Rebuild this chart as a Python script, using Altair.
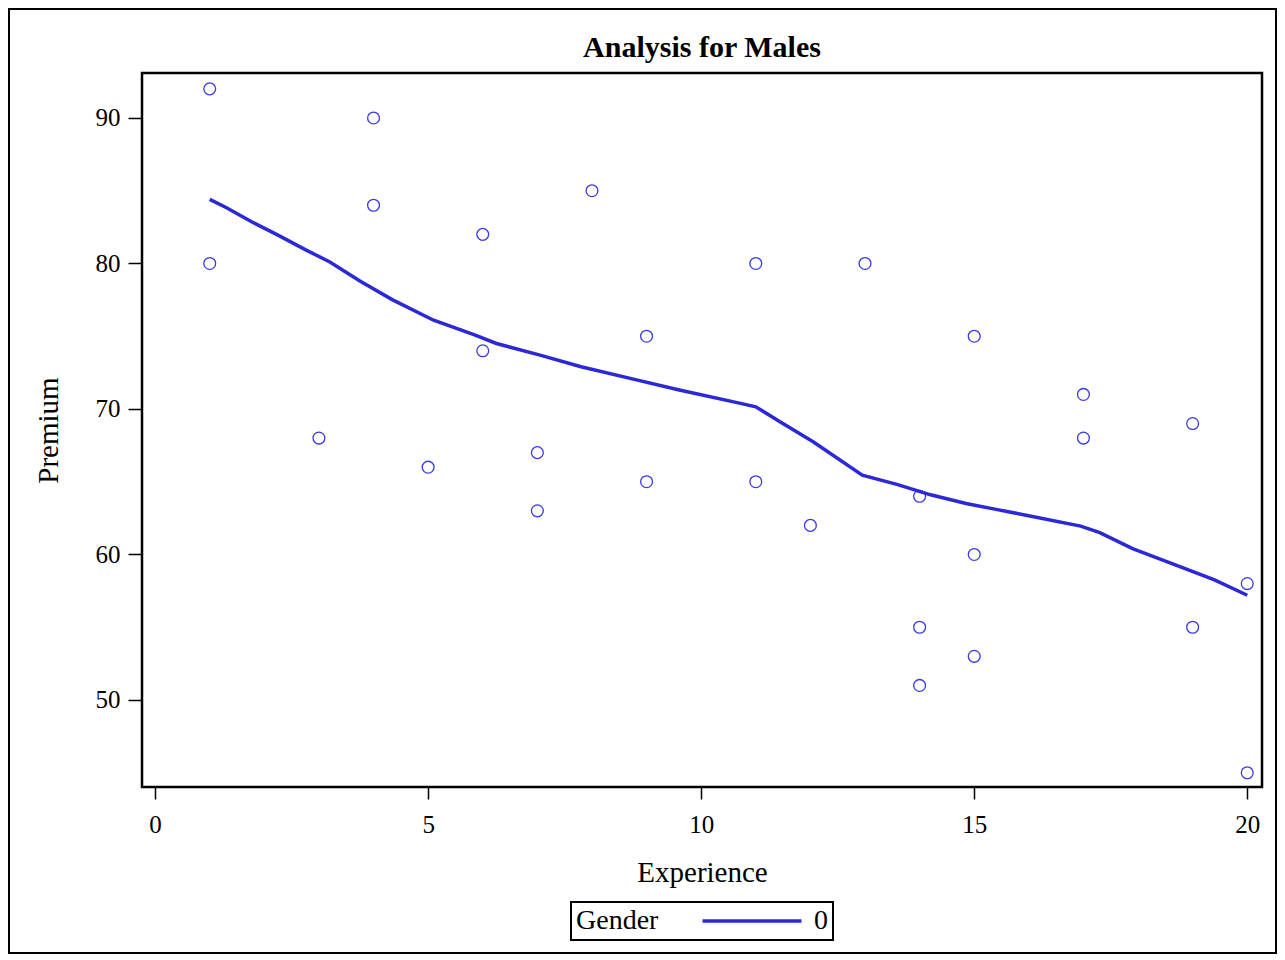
import altair as alt
import pandas as pd

# Scatter data (Experience, Premium)
exp_pts = [1, 1, 3, 4, 4, 5, 6, 6, 7, 7, 8, 9, 9, 11, 11, 12, 13, 14, 14, 14,
           15, 15, 15, 17, 17, 19, 19, 20, 20]
prem_pts = [92, 80, 68, 90, 84, 66, 82, 74, 67, 63, 85, 75, 65, 80, 65, 62, 80,
            64, 55, 51, 75, 60, 53, 71, 68, 69, 55, 58, 45]

# Loess fit line
exp_fit = [1.0, 1.3, 1.75, 2.25, 2.75, 3.2, 3.75, 4.35, 5.1, 5.85, 6.25, 7.05,
           7.8, 8.7, 9.6, 10.7, 11.0, 11.45, 12.05, 12.95, 13.6, 14.2, 14.85,
           15.4, 15.95, 16.95, 17.3, 17.9, 18.85, 19.4, 20.0]
prem_fit = [84.4, 83.85, 82.9, 81.95, 80.95, 80.1, 78.8, 77.5, 76.1, 75.1, 74.5,
            73.7, 72.9, 72.1, 71.3, 70.4, 70.15, 69.1, 67.75, 65.45, 64.8, 64.1,
            63.5, 63.1, 62.7, 61.95, 61.5, 60.4, 59.05, 58.25, 57.2]
gender = ["0"] * len(exp_fit)

x_ticks = [0, 5, 10, 15, 20]
y_ticks = [50, 60, 70, 80, 90]
title_text = "Analysis for Males"

pts = pd.DataFrame({"Experience": exp_pts, "Premium": prem_pts})
fit = pd.DataFrame({"Experience": exp_fit, "Premium": prem_fit, "Gender": gender})

FONT = "Liberation Serif"
LINE_COLOR = "#2b28d6"
PT_COLOR = "#3a3ae0"

xscale = alt.Scale(domain=[-0.24, 20.27], nice=False, zero=False)
yscale = alt.Scale(domain=[44.02, 93.09], nice=False, zero=False)

xaxis = alt.Axis(values=x_ticks, title="Experience", grid=False, tickSize=12,
                 labelPadding=13, titlePadding=21, domain=False)
yaxis = alt.Axis(values=y_ticks, title="Premium", grid=False, tickSize=14,
                 labelPadding=8, titlePadding=32, domain=False)

points = alt.Chart(pts).mark_point(
    shape="circle", filled=False, size=140, strokeWidth=1.3, color=PT_COLOR, opacity=1
).encode(
    x=alt.X("Experience:Q", scale=xscale, axis=xaxis),
    y=alt.Y("Premium:Q", scale=yscale, axis=yaxis),
)

line = alt.Chart(fit).mark_line(strokeWidth=3.5).encode(
    x=alt.X("Experience:Q", scale=xscale),
    y=alt.Y("Premium:Q", scale=yscale),
    color=alt.Color(
        "Gender:N",
        scale=alt.Scale(domain=["0"], range=[LINE_COLOR]),
        legend=alt.Legend(
            title="Gender", orient="none", legendX=429, legendY=829,
            direction="horizontal", titleOrient="left",
            strokeColor="black", padding=5,
            symbolType="M-4.95,0H4.95", symbolSize=400, symbolStrokeWidth=3.5,
            symbolOffset=37, labelOffset=48, titlePadding=42,
            titleFont=FONT, titleFontSize=28, titleFontWeight="normal",
            titleColor="black", labelFont=FONT, labelFontSize=28, labelColor="black",
        ),
    ),
)

frame = alt.Chart(alt.Data(values=[{}])).mark_rect(
    fill=None, stroke="black", strokeWidth=2
).encode(
    x=alt.value(-133), x2=alt.value(1134), y=alt.value(-64), y2=alt.value(880)
)

title = alt.Chart(alt.Data(values=[{}])).mark_text(
    text=title_text, font=FONT, fontSize=30, fontWeight="bold", color="black",
    align="center", baseline="alphabetic"
).encode(x=alt.value(560), y=alt.value(-16))

chart = alt.layer(frame, title, points, line).properties(
    width=1120, height=714,
    padding=0,
).configure_view(
    stroke="black", strokeWidth=2.5
).configure_axis(
    labelFont=FONT, labelFontSize=25, labelColor="black",
    titleFont=FONT, titleFontSize=29, titleFontWeight="normal", titleColor="black",
    tickColor="black", tickWidth=1.5,
).configure_legend(
    strokeWidth=2
)

chart.save("out.html", embed_options={"renderer": "svg", "actions": False})
